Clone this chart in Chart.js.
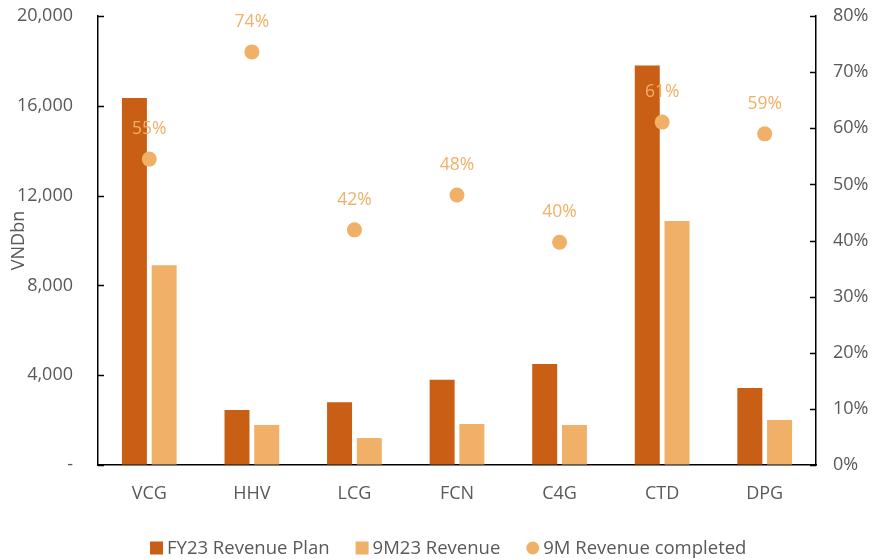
<!DOCTYPE html>
<html>
<head>
<meta charset="utf-8">
<script src="https://cdn.jsdelivr.net/npm/chart.js@4"></script>
<style>
  html, body { margin: 0; padding: 0; background: #fff; }
  #wrap { width: 873px; height: 559px; }
</style>
</head>
<body>
<div id="wrap"><canvas id="chart"></canvas></div>
<script>
var categories = ["VCG", "HHV", "LCG", "FCN", "C4G", "CTD", "DPG"];
var planRevenue = [16350, 2450, 2800, 3800, 4500, 17800, 3430];
var revenue9M = [8900, 1780, 1200, 1830, 1780, 10870, 2000];
var completed = [0.545, 0.736, 0.419, 0.481, 0.397, 0.611, 0.59];
var leftTicks = [0, 4000, 8000, 12000, 16000, 20000];

var DARK = "#C95F15";
var LIGHT = "#F0B068";
var TEXT = "#595959";
var FONT = "'Open Sans', sans-serif";

// inward tick marks on both y axes, percent labels over the dots, and the legend row
var extras = {
    id: "extras",
    afterDraw: function (chart) {
        var ctx = chart.ctx;
        ctx.save();
        ctx.strokeStyle = "#000";
        ctx.lineWidth = 1.5;
        ["y", "y1"].forEach(function (id) {
            var s = chart.scales[id];
            var x = id === "y" ? s.right : s.left;
            var dir = id === "y" ? 1 : -1;
            s.ticks.forEach(function (t, i) {
                var py = Math.round(s.getPixelForTick(i)) + 0.5;
                ctx.beginPath();
                ctx.moveTo(x, py);
                ctx.lineTo(x + dir * 6, py);
                ctx.stroke();
            });
        });

        var meta = chart.getDatasetMeta(2);
        ctx.fillStyle = LIGHT;
        ctx.font = "17.5px " + FONT;
        ctx.textAlign = "center";
        ctx.textBaseline = "middle";
        meta.data.forEach(function (pt, i) {
            ctx.fillText(Math.round(completed[i] * 100) + "%", pt.x, pt.y - 30);
        });

        // legend
        ctx.font = "18.5px " + FONT;
        ctx.textAlign = "left";
        var gap = 26, y = 548, x = 150;
        chart.data.datasets.forEach(function (ds) {
            ctx.fillStyle = ds.backgroundColor;
            if (ds.type === "line") {
                ctx.beginPath();
                ctx.arc(x + 6.5, y, 6.5, 0, Math.PI * 2);
                ctx.fill();
            } else {
                ctx.fillRect(x, y - 6.5, 13, 13);
            }
            ctx.fillStyle = TEXT;
            ctx.fillText(ds.label, x + 17, y + 1);
            x += 17 + ctx.measureText(ds.label).width + gap;
        });
        ctx.restore();
    }
};

new Chart(document.getElementById("chart"), {
    data: {
        labels: categories,
        datasets: [{
            type: "bar",
            label: "FY23 Revenue Plan",
            data: planRevenue,
            backgroundColor: DARK,
            yAxisID: "y",
            order: 1,
            categoryPercentage: 0.58,
            barPercentage: 0.84
        }, {
            type: "bar",
            label: "9M23 Revenue",
            data: revenue9M,
            backgroundColor: LIGHT,
            yAxisID: "y",
            order: 1,
            categoryPercentage: 0.58,
            barPercentage: 0.84
        }, {
            type: "line",
            label: "9M Revenue completed",
            data: completed,
            yAxisID: "y1",
            order: 0,
            showLine: false,
            pointStyle: "circle",
            pointRadius: 7.5,
            pointHoverRadius: 7.5,
            backgroundColor: LIGHT,
            borderColor: LIGHT,
            pointBorderWidth: 0
        }]
    },
    options: {
        responsive: true,
        maintainAspectRatio: false,
        animation: false,
        layout: { padding: { top: 16, left: 8, right: 0, bottom: 0 } },
        plugins: {
            tooltip: { enabled: false },
            legend: { display: false }
        },
        scales: {
            x: {
                grid: { display: false, drawTicks: false },
                border: { display: true, color: "#000", width: 1.5 },
                ticks: { color: TEXT, font: { family: FONT, size: 18 }, padding: 18 },
                afterFit: function (s) { s.height = 94; }
            },
            y: {
                position: "left",
                min: 0,
                max: 20000,
                afterBuildTicks: function (s) {
                    s.ticks = leftTicks.map(function (v) { return { value: v }; });
                },
                // invisible tick marks just push the labels away from the axis
                grid: { display: true, drawOnChartArea: false, tickLength: 25, tickColor: "rgba(0,0,0,0)" },
                border: { display: true, color: "#000", width: 1.5 },
                ticks: {
                    color: TEXT,
                    font: { family: FONT, size: 18 },
                    padding: 0,
                    callback: function (v) { return v === 0 ? "-" : v.toLocaleString("en-US"); }
                },
                title: {
                    display: true,
                    text: "VNDbn",
                    color: TEXT,
                    font: { family: FONT, size: 18 },
                    padding: 0
                },
                afterFit: function (s) { s.width = 90; }
            },
            y1: {
                position: "right",
                min: 0,
                max: 0.8,
                grid: { display: true, drawOnChartArea: false, tickLength: 17, tickColor: "rgba(0,0,0,0)" },
                border: { display: true, color: "#000", width: 1.5 },
                ticks: {
                    stepSize: 0.1,
                    color: TEXT,
                    font: { family: FONT, size: 18 },
                    padding: 0,
                    callback: function (v) { return Math.round(v * 100) + "%"; }
                },
                afterFit: function (s) { s.width = 57; }
            }
        }
    },
    plugins: [extras]
});
</script>
</body>
</html>
